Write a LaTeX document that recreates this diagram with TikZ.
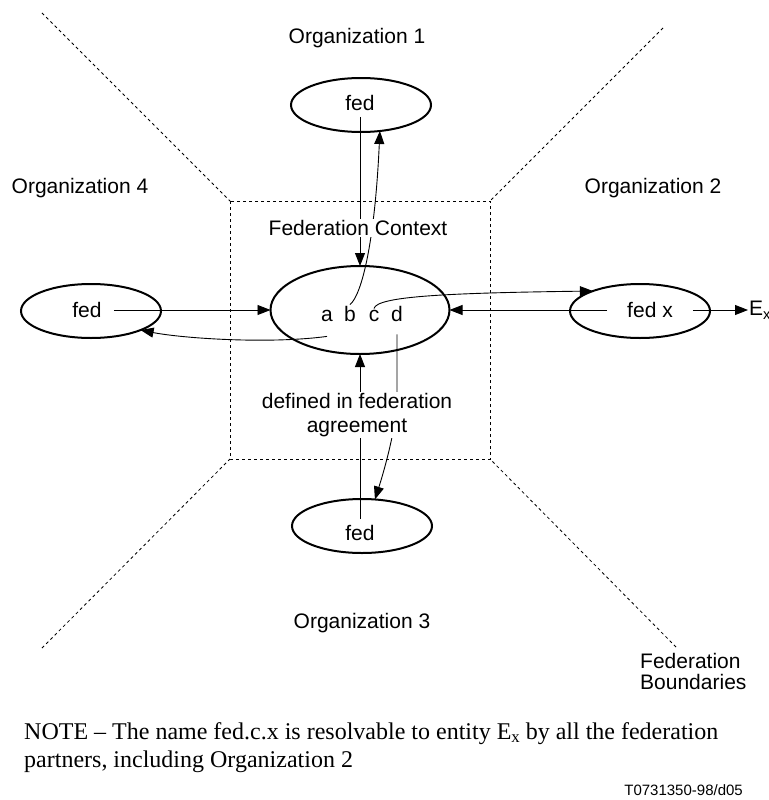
\documentclass[tikz,border=0pt]{standalone}
\usepackage{fontspec}
\setmainfont{Liberation Serif}
\setsansfont{Liberation Sans}
\usetikzlibrary{shapes.geometric,calc,arrows.meta}
\newcommand{\lowsub}[1]{\raisebox{-0.35ex}{\scalebox{0.7}{#1}}}

\begin{document}
\begin{tikzpicture}[x=1pt,y=-1pt]
\tikzset{fedshape/.style = {draw, ellipse, line width=2pt, minimum width=140pt, minimum height=54pt, inner sep=0pt, outer sep=0pt},
  txt/.style = {font=\sffamily\fontsize{21}{24}\selectfont, inner sep=1pt},
  fedtxt/.style = {txt, inner sep=6pt},
  bound/.style = {dash pattern=on 3pt off 3pt, line width=0.8pt},
  arr/.style = {line width=0.9pt, -{Triangle[length=13pt,width=10pt]}}}

\useasboundingbox (0,0) rectangle (768,800);

% federation boundaries
\draw[bound] (230,201) rectangle (490,459);
\draw[bound] (42,13) -- (230,201);
\draw[bound] (663,28) -- (490,201);
\draw[bound] (42,648) -- (230,459);
\draw[bound] (676,647) -- (490,459);

% federation context
\node[fedshape, minimum width=179pt, minimum height=88pt] (ctx) at (360,310) {};
\node[txt, anchor=base] (a) at (327,321) {a};
\node[txt, anchor=base] (b) at (350,321) {b};
\node[txt, anchor=base] (c) at (374,321) {c};
\node[txt, anchor=base] (d) at (397,321) {d};

% organizations
\node[fedshape] (o1) at (361,105) {};
\node[fedtxt] (o1t) at (360,103) {fed};
\node[fedshape] (o4) at (91,311) {};
\node[fedtxt, inner xsep=12pt] (o4t) at (87,310) {fed};
\node[fedshape] (fx) at (640,311) {};
\node[fedtxt, inner xsep=20pt] (fxt) at (650,310) {fed x};
\node[fedshape] (o3) at (362,526) {};
\node[fedtxt] (o3t) at (360,533) {fed};
\node[txt, anchor=west] (Ex) at (748,310) {E\lowsub{x}};

\node[txt] (org1) at (357,38) {Organization 1};
\node[txt] (org2) at (653,188) {Organization 2};
\node[txt] (org3) at (362,623) {Organization 3};
\node[txt] (org4) at (80,188) {Organization 4};

% references
\draw[arr] (o1t.south) -- (ctx.north);
\draw[arr] (o3t.north) -- (ctx.south);
\draw[arr] (o4t.east) -- (ctx.west);
\draw[arr] (fxt.west) -- (ctx.east);
\draw[arr] (fxt.east) -- (Ex.west);
\draw[arr] (b.north) .. controls +(12,-10) and +(-5,110) .. (o1.-54);
\draw[arr] (c.north) .. controls +(3,-12) and +(-150,2) .. (fx.157);
\draw[arr] ($(a.south)+(0,14)$) .. controls +(-60,8) and +(40,8) .. (o4.-21);
\draw[arr] ($(d.south)+(0,12)$) -- ++(0,66) .. controls +(-1,30) and +(8,-25) .. (o3.64);

\node[txt, fill=white] (fedctx) at (358,228) {Federation Context};
\node[txt, fill=white, align=center] (agree) at (357,415) {defined in federation\\agreement};
\node[txt, align=left, anchor=base west, font=\sffamily\fontsize{21}{21}\selectfont] (fedbound) at (639,689) {Federation\\Boundaries};

% note
\node[anchor=base west, align=left, inner sep=0pt, font=\fontsize{24}{28}\selectfont] (note) at (24,767)
  {NOTE -- The name fed.c.x is resolvable to entity E\lowsub{x} by all the federation\\partners, including Organization 2};
\node[anchor=base east, inner sep=0pt, font=\sffamily\fontsize{15}{18}\selectfont] (tag) at (743,795) {T0731350-98/d05};
\end{tikzpicture}
\end{document}
